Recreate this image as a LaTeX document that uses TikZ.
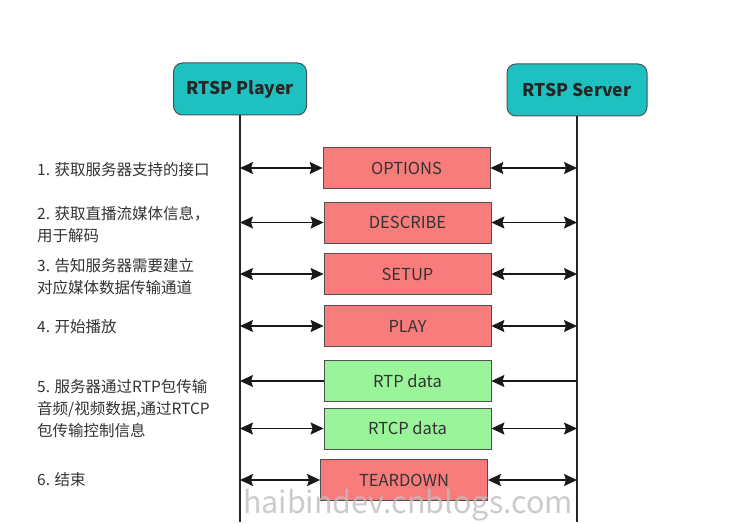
\documentclass[tikz,border=0pt]{standalone}
\usepackage{fontspec}
\setmainfont{Noto Sans CJK SC}
\usetikzlibrary{arrows.meta}
\definecolor{teal1}{HTML}{1EC0C0}
\definecolor{red1}{HTML}{F87C7C}
\definecolor{green1}{HTML}{9AF49A}
\definecolor{bord}{HTML}{505050}
\begin{document}
\begin{tikzpicture}[x=1pt,y=-1pt,
  actor/.style={draw=bord,line width=1pt,fill=teal1,rounded corners=9pt,minimum width=133pt,minimum height=52pt,font=\fontsize{17.5}{20}\selectfont\bfseries,text=black!85},
  msgred/.style={draw=bord,line width=0.8pt,fill=red1,minimum width=167pt,minimum height=41pt,font=\fontsize{16.5}{19}\selectfont,text=black!80},
  msggreen/.style={msgred,fill=green1},
  lbl/.style={anchor=west,align=left,font=\fontsize{15.5}{22}\selectfont,text=black!80,inner sep=0pt},
  life/.style={line width=1.2pt,black!85},
  tip/.tip={Stealth[length=13pt,width=12pt,inset=2pt]},
  arr/.style={line width=1.3pt,black!90,tip-tip},
  arrl/.style={line width=1.3pt,black!90,tip-}
]
\useasboundingbox[fill=white] (0,0) rectangle (744,524);
\node[actor] (P) at (240,89) {RTSP Player};
\node[actor,minimum width=140pt] (S) at (577,90) {RTSP Server};
\coordinate (Pend) at (240,522);
\coordinate (Send) at (577,522);
\draw[life] (P.south) -- (Pend);
\draw[life] (S.south) -- (Send);

\node[msgred] (m1) at (406.5,168) {OPTIONS};
\node[msgred] (m2) at (407.5,222.5) {DESCRIBE};
\node[msgred] (m3) at (407.5,274) {SETUP};
\node[msgred] (m4) at (407.5,326) {PLAY};
\node[msggreen] (m5) at (407.5,381) {RTP data};
\node[msggreen] (m6) at (407.5,428.5) {RTCP data};
\node[msgred] (m7) at (404,480) {TEARDOWN};

\foreach \m in {m1,m2,m3,m4,m6,m7}{
  \draw[arr] (P|-\m.west) -- (\m.west);
  \draw[arr] (\m.east) -- (S|-\m.east);
}
\draw[arrl] (P|-m5.west) -- (m5.west);
\draw[arrl] (m5.east) -- (S|-m5.east);

\node[lbl] (l1) at (37,170) {1. 获取服务器支持的接口};
\node[lbl] (l2) at (37,225) {2. 获取直播流媒体信息，\\用于解码};
\node[lbl] (l3) at (37,277) {3. 告知服务器需要建立\\对应媒体数据传输通道};
\node[lbl] (l4) at (37,327) {4. 开始播放};
\node[lbl] (l5) at (37,409) {5. 服务器通过RTP包传输\\音频/视频数据,通过RTCP\\包传输控制信息};
\node[lbl] (l6) at (37,480) {6. 结束};

\node[font=\fontsize{30.5}{33}\selectfont,text=black!25,opacity=0.8] (wm) at (408,505) {haibindev.cnblogs.com};
\end{tikzpicture}
\end{document}
